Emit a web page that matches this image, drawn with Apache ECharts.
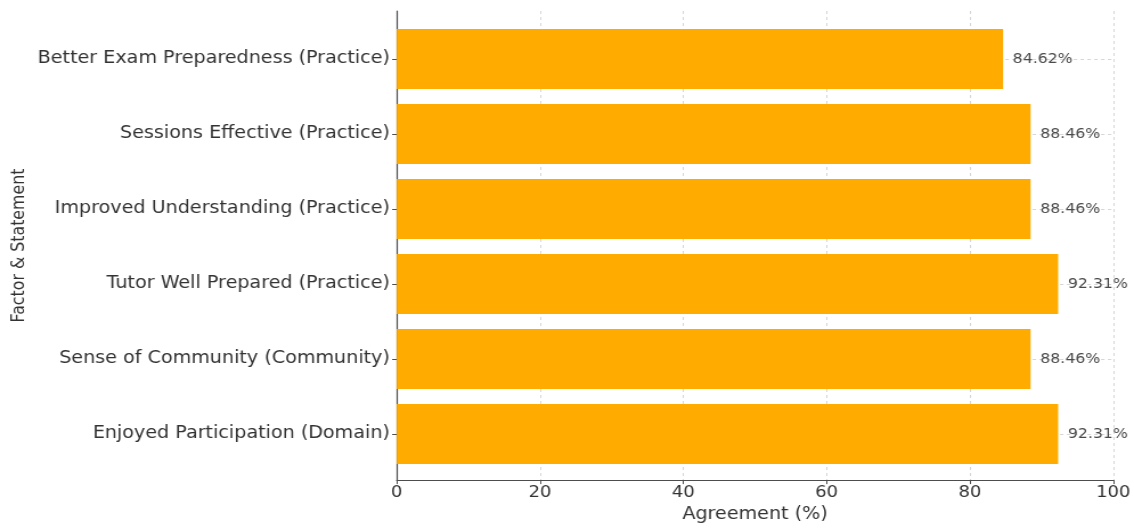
<!DOCTYPE html>
<html>
<head>
<meta charset="utf-8">
<script src="https://cdn.jsdelivr.net/npm/echarts@6/dist/echarts.min.js"></script>
<style>
  html, body { margin: 0; padding: 0; background: #fff; overflow: hidden; }
  /* the chart is laid out narrower and widened horizontally */
  #chart { width: 995px; height: 528px; transform: scaleX(1.1397); transform-origin: 0 0; }
</style>
</head>
<body>
<div id="chart"></div>
<script>
// statements, listed top to bottom
const categories = [
  'Better Exam Preparedness (Practice)',
  'Sessions Effective (Practice)',
  'Improved Understanding (Practice)',
  'Tutor Well Prepared (Practice)',
  'Sense of Community (Community)',
  'Enjoyed Participation (Domain)'
];
// share of respondents agreeing, in percent
const agreement = [84.62, 88.46, 88.46, 92.31, 88.46, 92.31];
const xTicks = { min: 0, max: 100, interval: 20 };

const FONT = 'DejaVu Sans';
const AXIS_COLOR = '#4d4d4d';
const GRID_COLOR = '#d6d6d6';

const chart = echarts.init(document.getElementById('chart'));
chart.setOption({
  animation: false,
  backgroundColor: '#fff',
  grid: [
    // frame: spines, x ticks, vertical grid
    { left: 348.1, right: 18.2, top: 11, bottom: 42.5 },
    // bars: category centres from first to last row
    { left: 348.1, right: 18.2, top: 59, bottom: 94 }
  ],
  xAxis: [
    {
      gridIndex: 0,
      type: 'value',
      min: xTicks.min, max: xTicks.max, interval: xTicks.interval,
      name: 'Agreement (%)',
      nameLocation: 'middle',
      nameGap: 23.5,
      nameTextStyle: { fontFamily: FONT, fontSize: 16.8, color: '#333' },
      axisLine: { show: true, lineStyle: { color: AXIS_COLOR, width: 1.2 } },
      axisTick: { show: true, length: 4, lineStyle: { color: AXIS_COLOR, width: 1 } },
      axisLabel: { fontFamily: FONT, fontSize: 15.8, color: '#333', margin: 5 },
      splitLine: { show: true, lineStyle: { color: GRID_COLOR, type: [3, 3], width: 1 } }
    },
    {
      gridIndex: 1,
      type: 'value',
      min: xTicks.min, max: xTicks.max,
      show: false
    }
  ],
  yAxis: [
    {
      gridIndex: 0,
      type: 'value',
      min: 0, max: 1,
      name: 'Factor & Statement',
      nameLocation: 'middle',
      nameGap: 323,
      nameTextStyle: { fontFamily: FONT, fontSize: 15.8, color: '#333' },
      axisLine: { show: true, lineStyle: { color: AXIS_COLOR, width: 1.2 } },
      axisTick: { show: false },
      axisLabel: { show: false },
      splitLine: { show: false }
    },
    {
      gridIndex: 1,
      type: 'category',
      data: categories,
      inverse: true,
      boundaryGap: false,
      axisLine: { show: false },
      axisTick: { show: true, length: 4, lineStyle: { color: AXIS_COLOR, width: 1 } },
      axisLabel: { interval: 0, fontFamily: FONT, fontSize: 16.8, color: '#333', margin: 6 },
      splitLine: { show: true, interval: 0, lineStyle: { color: GRID_COLOR, type: [3, 3], width: 1 } }
    }
  ],
  series: [
    {
      type: 'bar',
      xAxisIndex: 1,
      yAxisIndex: 1,
      data: agreement,
      barWidth: 60,
      clip: false,
      itemStyle: { color: '#FFAB00' },
      label: {
        show: true,
        position: 'right',
        distance: 8.5,
        fontFamily: FONT,
        fontSize: 13.8,
        color: '#4a4a4a',
        formatter: p => p.value.toFixed(2) + '%'
      }
    }
  ]
});
</script>
</body>
</html>
